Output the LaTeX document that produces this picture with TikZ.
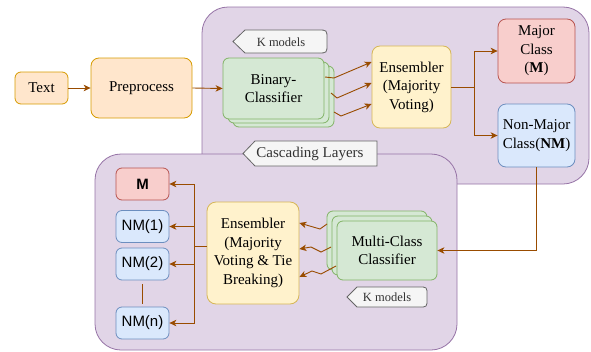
\documentclass[tikz,border=0pt]{standalone}
\usepackage{fontspec}
\setmainfont{Liberation Serif}
\newfontfamily\sansf{Liberation Sans}
\usetikzlibrary{arrows.meta}
\definecolor{cfill}{HTML}{E1D5E7}
\definecolor{cdraw}{HTML}{9673A6}
\definecolor{ofill}{HTML}{FFE6CC}
\definecolor{odraw}{HTML}{D79B00}
\definecolor{gfill}{HTML}{D5E8D4}
\definecolor{gdraw}{HTML}{82B366}
\definecolor{yfill}{HTML}{FFF2CC}
\definecolor{ydraw}{HTML}{D6B656}
\definecolor{rfill}{HTML}{F8CECC}
\definecolor{rdraw}{HTML}{B85450}
\definecolor{bfill}{HTML}{DAE8FC}
\definecolor{bdraw}{HTML}{6C8EBF}
\definecolor{lfill}{HTML}{F5F5F5}
\definecolor{ldraw}{HTML}{666666}
\definecolor{arrc}{HTML}{994C00}
\begin{document}
\begin{tikzpicture}[x=1pt,y=-1pt,
  box/.style={draw, rounded corners=6pt, line width=0.8pt, align=center, inner sep=0pt,
    font=\fontsize{15}{18.5}\selectfont},
  obox/.style={box, fill=ofill, draw=odraw},
  gbox/.style={box, fill=gfill, draw=gdraw, minimum width=101pt, minimum height=61pt},
  mbox/.style={box, fill=gfill, draw=gdraw, minimum width=100pt, minimum height=59pt},
  ybox/.style={box, fill=yfill, draw=ydraw},
  rbox/.style={box, fill=rfill, draw=rdraw},
  bbox/.style={box, fill=bfill, draw=bdraw},
  outbox/.style={box, minimum width=53pt, minimum height=32pt, font=\sansf\fontsize{15}{17}\selectfont},
  container/.style={draw=cdraw, fill=cfill, line width=0.8pt, rounded corners=26pt},
  labshape/.style={draw=ldraw, fill=lfill, line width=0.8pt},
  labtext/.style={text=black!80, inner sep=0pt},
  arr/.style={draw=arrc, line width=0.9pt, -{Stealth[length=7pt,width=6.5pt,inset=2pt]}},
  conn/.style={draw=arrc, line width=0.9pt}
]
\useasboundingbox (0,0) rectangle (591,351);

% containers
\draw[container] (202,7) rectangle (589,184);
\draw[container] (95,154) rectangle (457,350);

% labels
\draw[labshape] (233,41.5) -- (245,30) -- (318,30) .. controls (327,30) and (327,30) .. (327,39)
  -- (327,44) .. controls (327,53) and (327,53) .. (318,53) -- (245,53) -- cycle;
\node[labtext, font=\fontsize{12.5}{14}\selectfont] (kup) at (281,42) {K models};

\draw[labshape] (243,153.5) -- (255,141) -- (377,141) -- (377,166) -- (255,166) -- cycle;
\node[labtext, font=\fontsize{15}{17}\selectfont] (casc) at (310,154) {Cascading Layers};

\draw[labshape] (347,297) -- (357,287) -- (419,287) .. controls (427,287) and (427,287) .. (427,295)
  -- (427,299) .. controls (427,307) and (427,307) .. (419,307) -- (357,307) -- cycle;
\node[labtext, font=\fontsize{12.5}{14}\selectfont] (klow) at (387,297.5) {K models};

% upper flow
\node[obox, minimum width=53pt, minimum height=32pt] (text) at (41.5,88) {Text};
\node[obox, minimum width=101pt, minimum height=60pt, rounded corners=8pt] (pre) at (141.5,88) {Preprocess};

\node[gbox] (bin3) at (283.5,96.5) {};
\node[gbox] (bin2) at (278.5,92.5) {};
\node[gbox] (bin) at (273.5,88.5) {Binary-\\Classifier};

\node[ybox, minimum width=79pt, minimum height=82pt, rounded corners=8pt] (ens1) at (411.5,87) {Ensembler\\(Majority\\Voting)};
\node[rbox, minimum width=77pt, minimum height=64pt, rounded corners=8pt] (maj) at (536.5,51) {Major\\Class\\(\textbf{M})};
\node[bbox, minimum width=77pt, minimum height=63pt, rounded corners=8pt] (nonmaj) at (536.5,135.5) {Non-Major\\Class(\textbf{NM})};

\draw[arr] (text.east) -- (pre.west);
\draw[arr] (pre.east) -- (bin.west);

\coordinate (b1) at (325,77);
\coordinate (b2) at (331,93);
\coordinate (b3) at (334,112);
\draw[arr] (b1) -- (334,78) -- ([yshift=25pt]ens1.west);
\draw[arr] (b2) -- (337,98) -- ([yshift=4pt]ens1.west);
\draw[arr] (b3) -- (341,116) -- ([yshift=-17pt]ens1.west);

\coordinate (sp) at (474,87);
\draw[conn] (ens1.east) -- (sp);
\draw[arr] (sp) |- (maj.west);
\draw[arr] (sp) |- (nonmaj.west);

% lower flow
\node[mbox] (mc3) at (377,240.5) {};
\node[mbox] (mc2) at (382,245.5) {};
\node[mbox] (mc) at (387,250.5) {Multi-Class\\Classifier};

\draw[arr] (nonmaj.south) |- (mc.east);

\node[ybox, minimum width=92pt, minimum height=102pt, rounded corners=9pt] (ens2) at (253,253) {Ensembler\\(Majority\\Voting \& Tie\\Breaking)};

\coordinate (m1) at (327,224);
\coordinate (m2) at (331,247);
\coordinate (m3) at (336,266);
\draw[arr] (m1) -- (320,229) -- ([yshift=30pt]ens2.east);
\draw[arr] (m2) -- (321,252) -- (311,247) -- ([yshift=4pt]ens2.east);
\draw[arr] (m3) -- (321,274) -- (312,271) -- ([yshift=-24pt]ens2.east);

\node[outbox, fill=rfill, draw=rdraw] (om) at (142.5,184) {\textbf{M}};
\node[outbox, fill=bfill, draw=bdraw] (on1) at (142.5,226.5) {NM(1)};
\node[outbox, fill=bfill, draw=bdraw] (on2) at (142.5,264) {NM(2)};
\node[outbox, fill=bfill, draw=bdraw] (onn) at (142.5,323) {NM(n)};

\draw[conn, shorten <=4pt, shorten >=3pt] (on2.south) -- (onn.north);

\coordinate (jn) at (194,246);
\draw[conn] ([yshift=7pt]ens2.west) -- (jn);
\draw[arr] (jn) |- (om.east);
\draw[arr] (jn) |- (on1.east);
\draw[arr] (jn) |- (on2.east);
\draw[arr] (jn) |- (onn.east);
\end{tikzpicture}
\end{document}
